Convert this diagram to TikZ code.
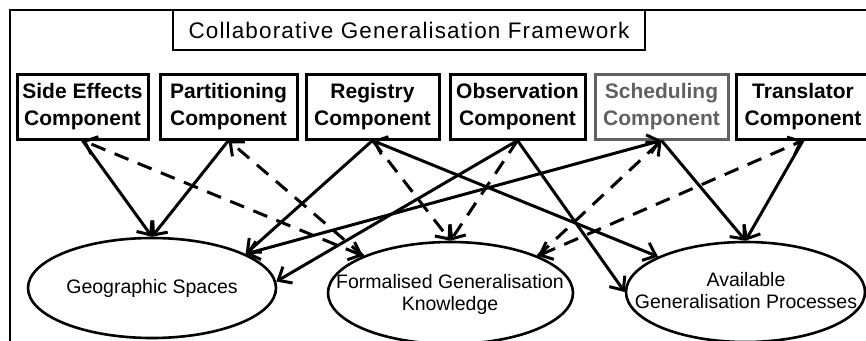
\documentclass[tikz,border=0pt]{standalone}
\usepackage{fontspec}
\setmainfont{Liberation Sans}
\usetikzlibrary{shapes.geometric,arrows.meta}
\definecolor{schedgray}{gray}{0.38}
\begin{document}
\begin{tikzpicture}[x=1pt,y=-1pt,
  comp/.style={draw, line width=3pt, minimum height=65pt, inner sep=0pt, align=center,
    font=\bfseries\fontsize{21}{27}\selectfont},
  ell/.style={draw, ellipse, line width=2.6pt, inner sep=0pt},
  elltext/.style={align=center, inner sep=0pt, font=\fontsize{19.5}{22}\selectfont},
  arr/.style={line width=3pt, -{Straight Barb[length=11pt,width=19pt]}},
  arrb/.style={line width=3pt, {Straight Barb[length=11pt,width=19pt]}-{Straight Barb[length=11pt,width=19pt]}},
  dsh/.style={arr, dash pattern=on 15pt off 10pt},
  dshb/.style={arrb, dash pattern=on 15pt off 10pt}]
\useasboundingbox (0,0) rectangle (866,340);
\fill[white] (0,0) rectangle (866,340);
% outer frame
\draw[line width=2.8pt] (10,345) -- (10,10) -- (875,10);
% title
\node[draw, line width=2.8pt, minimum width=472pt, minimum height=40pt, inner sep=0pt,
  font=\addfontfeatures{LetterSpace=5}\fontsize{22.5}{26}\selectfont] (title) at (409,30)
  {Collaborative Generalisation Framework};
% components
\node[comp, minimum width=131pt] (se) at (82.5,106.5) {Side Effects\\Component};
\node[comp, minimum width=137pt] (part) at (228.5,106.5) {Partitioning\\Component};
\node[comp, minimum width=133pt] (reg) at (372.5,106.5) {Registry\\Component};
\node[comp, minimum width=135pt] (obs) at (517.5,106.5) {Observation\\Component};
\node[comp, minimum width=133pt, draw=schedgray, text=schedgray] (sched) at (661.5,106.5) {Scheduling\\Component};
\node[comp, minimum width=133pt] (trans) at (803,106.5) {Translator\\Component};
% ellipses
\node[ell, minimum width=248pt, minimum height=100pt] (gs) at (152,288) {};
\node[elltext] (gst) at (gs) {Geographic Spaces};
\node[ell, minimum width=245pt, minimum height=102pt] (fgk) at (450.5,293) {};
\node[elltext] (fgkt) at (450,294) {Formalised Generalisation\\Knowledge};
\node[ell, minimum width=239pt, minimum height=100pt] (agp) at (745.5,292) {};
\node[elltext] (agpt) at (746,291) {Available\\Generalisation Processes};
% solid connectors
\draw[arr] (se.south) -- (gs.north);
\draw[arr] (part.south) -- (gs.north);
\draw[arr] (reg.south) -- (gs.20);
\draw[arrb] (gs.20) -- (sched.south);
\draw[arr] (obs.south) -- (gs.3);
\draw[arrb] (reg.south) -- (agp.158);
\draw[arr] (obs.south) -- (agp.west);
\draw[arr] (sched.south) -- (agp.north);
\draw[arr] (trans.south) -- (agp.north);
% dashed connectors
\draw[dshb] (fgk.157) -- (se.south);
\draw[dsh] (fgk.157) -- (part.south);
\draw[dsh] (reg.south) -- (fgk.north);
\draw[dsh] (obs.south) -- (fgk.north);
\draw[dsh] (fgk.23) -- (sched.south);
\draw[dshb] (fgk.23) -- (trans.south);
\end{tikzpicture}
\end{document}
